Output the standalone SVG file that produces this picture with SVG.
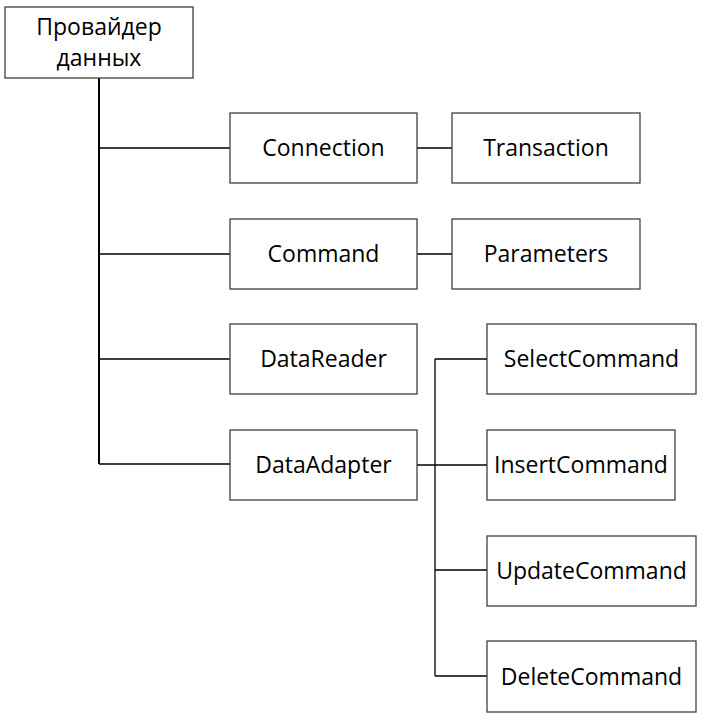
<svg xmlns="http://www.w3.org/2000/svg" width="710" height="723" viewBox="0 0 710 723">
<style>
.box{fill:#fff;stroke:#404040;stroke-width:1.3}
.t{font-family:"Open Sans","Liberation Sans",sans-serif;font-size:23px;fill:#000;text-anchor:middle}
.c{fill:none;stroke:#000;stroke-width:1.3}
</style>
<rect width="710" height="723" fill="#fff"/>
<g id="connectors">
<path class="c" d="M99 78V464" style="stroke-width:2"/>
<path class="c" d="M99 148H230M99 254H230M99 359H230M99 464H230"/>
<path class="c" d="M417 148H452M417 254H452"/>
<path class="c" d="M417 465H487M435 359V676M435 359H487M435 570H487M435 676H487"/>
</g>
<g id="root"><rect class="box" x="5" y="7" width="188" height="71"/><text class="t" x="99" y="35">Провайдер</text><text class="t" x="99" y="66">данных</text></g>
<g id="connection"><rect class="box" x="230" y="113" width="187" height="70"/><text class="t" x="323.5" y="156">Connection</text></g>
<g id="transaction"><rect class="box" x="452" y="113" width="188" height="70"/><text class="t" x="546" y="156">Transaction</text></g>
<g id="command"><rect class="box" x="230" y="219" width="187" height="70"/><text class="t" x="323.5" y="262">Command</text></g>
<g id="parameters"><rect class="box" x="452" y="219" width="188" height="70"/><text class="t" x="546" y="262">Parameters</text></g>
<g id="datareader"><rect class="box" x="230" y="324" width="187" height="70"/><text class="t" x="323.5" y="367">DataReader</text></g>
<g id="dataadapter"><rect class="box" x="230" y="430" width="187" height="70"/><text class="t" x="323.5" y="473">DataAdapter</text></g>
<g id="select"><rect class="box" x="487" y="324" width="209" height="70"/><text class="t" x="591.5" y="367">SelectCommand</text></g>
<g id="insert"><rect class="box" x="487" y="430" width="188" height="70"/><text class="t" x="581" y="473">InsertCommand</text></g>
<g id="update"><rect class="box" x="487" y="536" width="209" height="70"/><text class="t" x="591.5" y="579">UpdateCommand</text></g>
<g id="delete"><rect class="box" x="487" y="641" width="209" height="71"/><text class="t" x="591.5" y="685">DeleteCommand</text></g>
</svg>
